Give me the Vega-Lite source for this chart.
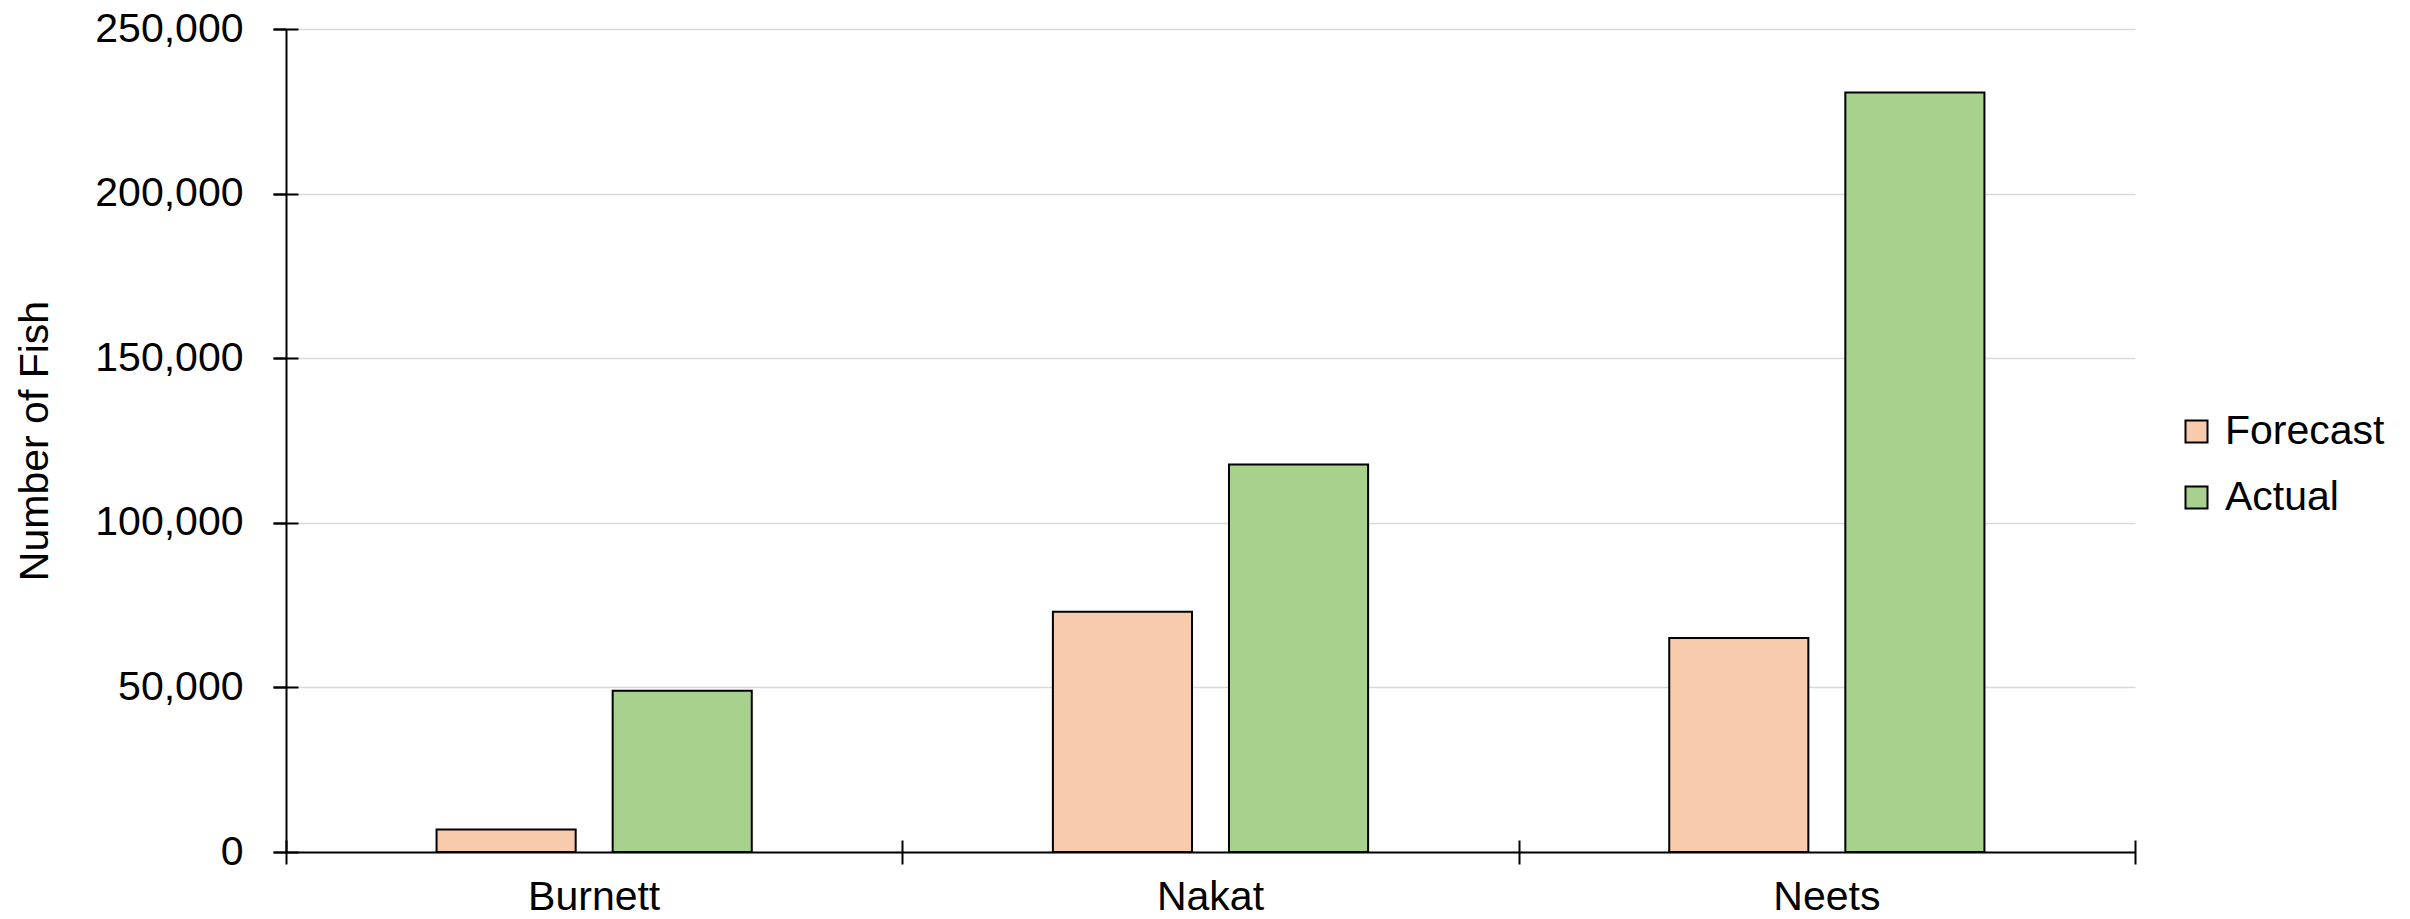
{
  "$schema": "https://vega.github.io/schema/vega-lite/v6.json",
  "width": 1849,
  "height": 823,
  "autosize": {"type": "none"},
  "padding": {"left": 286, "top": 29, "right": 275, "bottom": 67},
  "background": "white",
  "config": {
    "font": "Liberation Sans",
    "view": {"stroke": null}
  },
  "data": {
    "values": [
      {"River": "Burnett", "Series": "Forecast", "Fish": 6800},
      {"River": "Burnett", "Series": "Actual", "Fish": 49000},
      {"River": "Nakat", "Series": "Forecast", "Fish": 73000},
      {"River": "Nakat", "Series": "Actual", "Fish": 117700},
      {"River": "Neets", "Series": "Forecast", "Fish": 65000},
      {"River": "Neets", "Series": "Actual", "Fish": 230700}
    ]
  },
  "layer": [
    {
      "mark": {"type": "bar", "stroke": "#000000", "strokeWidth": 2},
      "encoding": {
        "x": {
          "field": "River",
          "type": "nominal",
          "sort": ["Burnett", "Nakat", "Neets"],
          "scale": {"paddingInner": 0, "paddingOuter": 0},
          "axis": {
            "title": null,
            "labelAngle": 0,
            "labelFontSize": 41,
            "labelColor": "#000000",
            "labelPadding": 25,
            "ticks": false,
            "tickSize": 0,
            "domainColor": "#000000",
            "domainWidth": 2,
            "grid": false
          }
        },
        "xOffset": {
          "field": "Series",
          "type": "nominal",
          "sort": ["Forecast", "Actual"],
          "scale": {"paddingInner": 0.21, "paddingOuter": 0.855}
        },
        "y": {
          "field": "Fish",
          "type": "quantitative",
          "scale": {"domain": [0, 250000], "nice": false},
          "axis": {
            "title": "Number of Fish",
            "titleFontSize": 41,
            "titleFontWeight": "normal",
            "titleColor": "#000000",
            "titlePadding": 38,
            "values": [0, 50000, 100000, 150000, 200000, 250000],
            "format": ",d",
            "labelFontSize": 41,
            "labelColor": "#000000",
            "labelPadding": 30,
            "tickSize": 13,
            "tickColor": "#000000",
            "tickWidth": 2,
            "domainColor": "#000000",
            "domainWidth": 2,
            "grid": true,
            "gridColor": "#D9D9D9",
            "gridWidth": 1.5
          }
        },
        "color": {
          "field": "Series",
          "type": "nominal",
          "scale": {"domain": ["Forecast", "Actual"], "range": ["#F8CBAD", "#A9D18E"]},
          "legend": {
            "title": null,
            "orient": "none",
            "legendX": 1890,
            "legendY": 382,
            "padding": 0,
            "symbolType": "square",
            "symbolSize": 484,
            "symbolStrokeColor": "#000000",
            "symbolStrokeWidth": 2,
            "symbolOpacity": 1,
            "labelFontSize": 41,
            "labelColor": "#000000",
            "labelOffset": 8,
            "rowPadding": 24
          }
        }
      }
    },
    {
      "mark": {"type": "point", "opacity": 0},
      "encoding": {
        "x": {
          "datum": 0,
          "type": "quantitative",
          "scale": {"domain": [0, 3], "nice": false, "zero": false},
          "axis": {
            "orient": "bottom",
            "title": null,
            "values": [0, 1, 2, 3],
            "labels": false,
            "domain": false,
            "grid": false,
            "tickSize": 24,
            "offset": -12,
            "tickColor": "#000000",
            "tickWidth": 2
          }
        },
        "y": {
          "datum": 0,
          "type": "quantitative",
          "scale": {"domain": [0, 250000], "nice": false},
          "axis": {
            "orient": "left",
            "title": null,
            "values": [0, 50000, 100000, 150000, 200000, 250000],
            "labels": false,
            "domain": false,
            "grid": false,
            "tickSize": 25,
            "offset": -12,
            "tickColor": "#000000",
            "tickWidth": 2
          }
        }
      }
    }
  ],
  "resolve": {
    "scale": {"x": "independent", "y": "independent"},
    "axis": {"x": "independent", "y": "independent"}
  }
}
